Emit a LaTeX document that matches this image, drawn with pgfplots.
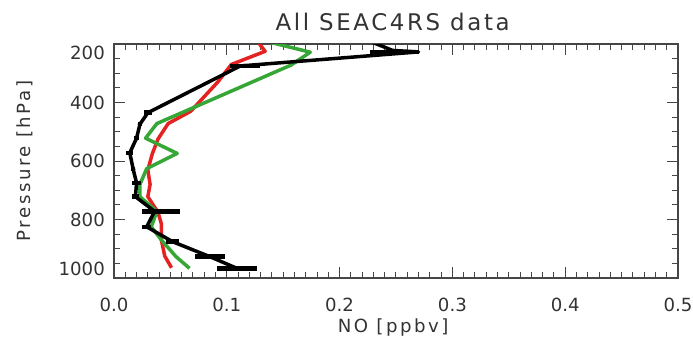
\documentclass[border=0pt]{standalone}
\usepackage{fontspec}
\setmainfont{DejaVu Sans}
\newfontfamily\lblfont[LetterSpace=14]{DejaVu Sans}
\newfontfamily\ttlfont[LetterSpace=11.5]{DejaVu Sans}
\usepackage{pgfplots}
\pgfplotsset{compat=1.18}
\usepackage{pgfplotstable}
\definecolor{myred}{RGB}{228,34,34}
\definecolor{mygreen}{RGB}{54,166,54}
\definecolor{axgray}{RGB}{70,70,70}

\pgfplotstableread{
v p
0.127 190
0.134 225
0.104 270
0.092 330
0.068 430
0.048 472
0.039 525
0.034 575
0.030 630
0.032 680
0.030 722
0.039 775
0.042 815
0.042 870
0.045 925
0.051 965
}\redtab

\pgfplotstableread{
v p
0.134 190
0.174 228
0.157 272
0.038 472
0.028 522
0.056 574
0.029 626
0.023 680
0.023 722
0.038 773
0.033 825
0.042 870
0.055 927
0.067 967
}\greentab

\pgfplotstableread{
v p
0.220 180
0.247 222
0.270 227
0.112 275
0.030 435
0.023 474
0.020 522
0.014 572
0.017 628
0.020 675
0.019 722
0.036 772
0.029 825
0.052 876
0.085 927
0.109 967
}\blacktab

\pgfplotstableread{
v p e
0.2485 227 0.0215
0.116 275 0.013
0.0305 435 0.0035
0.023 474 0.002
0.020 522 0.002
0.014 572 0.003
0.017 628 0.002
0.020 675 0.004
0.019 722 0.003
0.0415 772 0.017
0.029 825 0.004
0.052 876 0.006
0.085 927 0.013
0.109 967 0.0175
}\bartab

\begin{document}
\begin{tikzpicture}
\begin{axis}[
  scale only axis, width=564bp, height=234bp,
  xmin=0, xmax=0.5, ymin=200, ymax=1000, y dir=reverse,
  xtick={0,0.1,0.2,0.3,0.4,0.5}, minor x tick num=9,
  ytick={400,600,800},
  minor ytick={250,300,350,450,500,550,650,700,750,850,900,950},
  extra y ticks={232,970}, extra y tick labels={200,1000},
  extra y tick style={major tick length=0pt},
  tick align=inside, xtick pos=both, ytick pos=both,
  major tick length=11bp, minor tick length=6bp,
  tick style={axgray, line width=1bp},
  axis line style={axgray, line width=1.3bp},
  /pgf/number format/assume math mode=true,
  x tick label style={/pgf/number format/fixed, /pgf/number format/fixed zerofill, /pgf/number format/precision=1},
  x tick label style={font=\fontsize{18.2}{18.2}\selectfont, text=black!80, anchor=base, yshift=-33.5bp, inner sep=0pt},
  y tick label style={font=\fontsize{18.2}{18.2}\selectfont, text=black!80, anchor=east, xshift=-9bp, inner sep=0pt},
  title={All SEAC4RS data},
  every axis title/.style={at={(axis description cs:0.494,1.0598)}, anchor=base, inner sep=0pt, font=\ttlfont\fontsize{23}{23}\selectfont, text=black!80},
  xlabel={NO [ppbv]},
  ylabel={Pressure [hPa]},
  every axis x label/.style={at={(axis description cs:0.495,-0.2308)}, anchor=base, inner sep=0pt, font=\lblfont\fontsize{18.2}{18.2}\selectfont, text=black!80},
  every axis y label/.style={at={(axis description cs:-0.1489,0.5)}, rotate=90, anchor=base, inner sep=0pt, font=\lblfont\fontsize{18.2}{18.2}\selectfont, text=black!80},
  clip=true,
]
\addplot[myred, line width=3.5bp, line join=round, mark=none] table[x=v, y=p] {\redtab};
\addplot[mygreen, line width=3.5bp, line join=round, mark=none] table[x=v, y=p] {\greentab};
\addplot[black, line width=3.5bp, line join=round, mark=none] table[x=v, y=p] {\blacktab};
\addplot[black, only marks, mark=none,
  error bars/.cd, x dir=both, x explicit, error mark=none,
  error bar style={black, line width=4.5bp}]
  table[x=v, y=p, x error=e] {\bartab};
\end{axis}
\pgfresetboundingbox
\path (-114bp,-67bp) rectangle (579bp,278bp);
\end{tikzpicture}
\end{document}
